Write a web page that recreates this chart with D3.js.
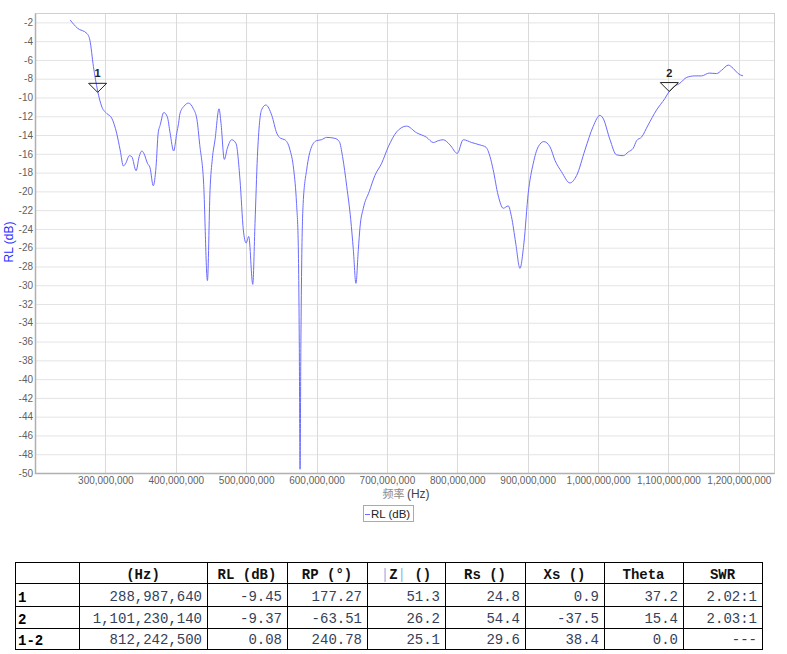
<!DOCTYPE html>
<html>
<head>
<meta charset="utf-8">
<script src="https://cdn.jsdelivr.net/npm/d3@7"></script>
<style>
body{margin:0;background:#fff;}
svg{display:block;}
</style>
</head>
<body>
<svg width="787" height="654"></svg>
<script>
// RL trace (MHz / dB)
var freqMHz = [250,260,274,278,283,289,295,302,309,316,321,325.6,329,334,337.5,343.6,348,351.7,355,359.7,363.5,368,372,375,378,383,388,392,397,401.4,404,406,412,418,425,430,434,439.5,445,448.7,452,455.8,461.5,464.3,469,473.3,479.5,485.6,491.3,496,500,503.7,509.4,512.6,516,522,528,536.4,543.5,549,555,562,567.6,571.6,574,575.5,576.6,577.8,579,581,586,593,600,607,614.5,626,632.4,637,643,648.6,652.3,656,659.4,661.8,666.5,675,683,692.6,702,714,728,742,756.5,766,773,780,789.6,800,808.5,820.5,832,840.8,846.5,851,858,865.3,872.4,877,883,889,894.7,900.8,908,915,923,931.7,938.8,948,960,969.6,981.4,993,1002.7,1007,1017,1026,1035.8,1043,1050,1054.8,1062,1071,1083,1095,1101,1107,1116,1126,1137.6,1147,1158,1168.5,1175.6,1185,1192,1199,1206];
var rlDb = [-1.75,-2.6,-3.2,-3.9,-6.7,-9.3,-11.0,-11.7,-12.2,-13.8,-15.6,-17.3,-17.0,-16.2,-16.3,-17.8,-16.3,-15.7,-16.0,-17.0,-17.5,-19.4,-17.35,-13.8,-12.9,-11.6,-12.05,-13.8,-15.7,-13.8,-12.75,-11.7,-10.9,-10.6,-11.2,-12.3,-15.0,-19.0,-29.5,-19.9,-16.5,-14.5,-11.2,-12.75,-16.6,-15.4,-14.5,-14.9,-18.8,-24.1,-25.5,-24.8,-29.9,-23.4,-16.3,-11.3,-10.8,-11.9,-13.8,-14.35,-14.5,-15.5,-17.7,-21.3,-25.5,-36,-49.6,-36,-27.3,-21.3,-17.7,-15.25,-14.6,-14.5,-14.25,-14.35,-14.7,-16.3,-19.5,-23,-26.2,-29.8,-26.2,-23.8,-21.8,-20.0,-18.3,-17.0,-15.25,-13.65,-13.05,-13.75,-14.25,-14.8,-14.6,-14.5,-15.05,-15.95,-14.5,-14.8,-15.05,-15.3,-16.3,-17.7,-20.4,-21.8,-21.55,-22.7,-25.5,-28.2,-25.5,-20.2,-17.0,-15.25,-14.7,-15.25,-16.7,-17.9,-19.1,-18.3,-15.6,-13.1,-11.9,-12.2,-14.5,-16.1,-16.2,-15.8,-15.4,-14.6,-14.2,-12.95,-11.35,-10.1,-9.37,-8.9,-8.5,-7.86,-7.7,-7.7,-7.4,-7.45,-7.1,-6.55,-6.9,-7.45,-7.7];

var markerNames = ["1","2"];
var markerFreq = [288987640, 1101230140];
var markerRL = [-9.45, -9.37];

var xTicks = [300e6,400e6,500e6,600e6,700e6,800e6,900e6,1000e6,1100e6,1200e6];
var yTicks = [-2,-4,-6,-8,-10,-12,-14,-16,-18,-20,-22,-24,-26,-28,-30,-32,-34,-36,-38,-40,-42,-44,-46,-48,-50];

// marker table
var tableHeader = ["", "(Hz)", "RL (dB)", "RP (°)", "|Z| ()", "Rs ()", "Xs ()", "Theta", "SWR"];
var rowNames = ["1", "2", "1-2"];
var colHz = ["288,987,640", "1,101,230,140", "812,242,500"];
var colRL = ["-9.45", "-9.37", "0.08"];
var colRP = ["177.27", "-63.51", "240.78"];
var colZ = ["51.3", "26.2", "25.1"];
var colRs = ["24.8", "54.4", "29.6"];
var colXs = ["0.9", "-37.5", "38.4"];
var colTheta = ["37.2", "15.4", "0.0"];
var colSWR = ["2.02:1", "2.03:1", "---"];

var svg = d3.select("svg");
var font = "Arial, 'Liberation Sans', sans-serif";
var mono = "'Courier New', 'Liberation Mono', monospace";

var x = d3.scaleLinear().domain([200e6, 1250e6]).range([35, 774]);
var y = d3.scaleLinear().domain([-50, -1]).range([473, 13]);

// grid
var grid = svg.append("g");
grid.selectAll(".hg").data(yTicks).enter().append("line")
	.attr("x1", x.range()[0]).attr("x2", x.range()[1])
	.attr("y1", function(d){return y(d)+0.5;}).attr("y2", function(d){return y(d)+0.5;})
	.attr("stroke", "#e4e4e4");
grid.selectAll(".vg").data(xTicks).enter().append("line")
	.attr("y1", y.range()[1]).attr("y2", y.range()[0])
	.attr("x1", function(d){return Math.round(x(d))+0.5;}).attr("x2", function(d){return Math.round(x(d))+0.5;})
	.attr("stroke", "#dadada");

svg.append("rect")
	.attr("x", 35.5).attr("y", 13.5)
	.attr("width", 774-35).attr("height", 473-13)
	.attr("fill", "none").attr("stroke", "#cfcfcf");
svg.append("path")
	.attr("d", "M35.5,13.5V473.5H774.5")
	.attr("fill", "none").attr("stroke", "#b0b0b0").attr("stroke-width", 1.5);

// axes
var yAxis = svg.append("g")
	.attr("transform", "translate(35,0)")
	.call(d3.axisLeft(y).tickValues(yTicks).tickSize(0).tickPadding(2).tickFormat(function(d){return String(d);}));
var xAxis = svg.append("g")
	.attr("transform", "translate(0,473)")
	.call(d3.axisBottom(x).tickValues(xTicks).tickSize(0).tickPadding(4).tickFormat(d3.format(",")));
[yAxis, xAxis].forEach(function(a){
	a.select(".domain").remove();
	a.selectAll("text").attr("font-family", font).attr("font-size", 10).attr("fill", "#5f5f5f");
});

// axis titles
svg.append("text")
	.attr("transform", "translate(13,242) rotate(-90)")
	.attr("text-anchor", "middle")
	.attr("font-family", font).attr("font-size", 12)
	.attr("fill", "#1f2fff")
	.text("RL (dB)");
var xl = svg.append("text")
	.attr("x", 406).attr("y", 498)
	.attr("text-anchor", "middle")
	.attr("font-family", font).attr("font-size", 12);
xl.append("tspan").attr("fill", "#8a8a8a").attr("font-family", "'Noto Sans CJK SC', sans-serif").attr("font-size", 11).text("频率 ");
xl.append("tspan").attr("fill", "#444").text("(Hz)");

// trace
var pts = freqMHz.map(function(f, i){return [f*1e6, rlDb[i]];});
var line = d3.line()
	.x(function(d){return x(d[0]);})
	.y(function(d){return y(d[1]);})
	.curve(d3.curveMonotoneX);
svg.append("path")
	.attr("d", line(pts))
	.attr("fill", "none")
	.attr("stroke", "#6b6bff")
	.attr("stroke-width", 1);

// markers
for(var i=0;i<markerNames.length;i++){
	var mx = x(markerFreq[i]);
	var my = y(markerRL[i]);
	svg.append("path")
		.attr("d", "M"+(mx-9)+","+(my-9)+"L"+(mx+9)+","+(my-9)+"L"+mx+","+my+"Z")
		.attr("fill", "none").attr("stroke", "#222").attr("stroke-width", 1);
	svg.append("text")
		.attr("x", mx).attr("y", my-15)
		.attr("text-anchor", "middle")
		.attr("font-family", font).attr("font-size", 11).attr("font-weight", "bold")
		.attr("fill", "#222")
		.text(markerNames[i]);
}

// legend
svg.append("rect")
	.attr("x", 363.5).attr("y", 505.5).attr("width", 50).attr("height", 16)
	.attr("fill", "#fff").attr("stroke", "#aaa");
svg.append("line")
	.attr("x1", 365).attr("x2", 370).attr("y1", 514.5).attr("y2", 514.5)
	.attr("stroke", "#6b6bff");
svg.append("text")
	.attr("x", 371).attr("y", 518)
	.attr("font-family", font).attr("font-size", 11.5).attr("fill", "#222")
	.text("RL (dB)");

// table
var colEdges = [15,79,207,287,367,445,525,604,683,762];
var rowEdges = [562,583,606,628,649];
var columns = [colHz, colRL, colRP, colZ, colRs, colXs, colTheta, colSWR];
var tbl = svg.append("g");
tbl.selectAll(".rl").data(rowEdges).enter().append("line")
	.attr("x1", colEdges[0]).attr("x2", colEdges[colEdges.length-1])
	.attr("y1", function(d){return d+0.5;}).attr("y2", function(d){return d+0.5;})
	.attr("stroke", "#000");
tbl.selectAll(".cl").data(colEdges).enter().append("line")
	.attr("y1", rowEdges[0]).attr("y2", rowEdges[rowEdges.length-1]+1)
	.attr("x1", function(d){return d+0.5;}).attr("x2", function(d){return d+0.5;})
	.attr("stroke", "#000");

tableHeader.forEach(function(h, c){
	if(h == "") return;
	var t = tbl.append("text")
		.attr("x", (colEdges[c]+colEdges[c+1])/2).attr("y", rowEdges[1]-4)
		.attr("text-anchor", "middle")
		.attr("font-family", mono).attr("font-size", 14).attr("font-weight", "bold")
		.attr("fill", "#111")
		.style("white-space", "pre");
	if(h.charAt(0) == "|"){
		var parts = h.split("|");
		t.append("tspan").attr("fill", "#8fb8e8").attr("font-weight", "normal").text("|");
		t.append("tspan").text(parts[1]);
		t.append("tspan").attr("fill", "#8fb8e8").attr("font-weight", "normal").text("|");
		t.append("tspan").text(parts[2]);
	}else{
		t.text(h);
	}
});

rowNames.forEach(function(r, k){
	tbl.append("text")
		.attr("x", colEdges[0]+3).attr("y", rowEdges[k+2]-4)
		.attr("font-family", mono).attr("font-size", 14).attr("font-weight", "bold")
		.attr("fill", "#000")
		.text(r);
	columns.forEach(function(col, c){
		tbl.append("text")
			.attr("x", colEdges[c+2]-5).attr("y", rowEdges[k+2]-5)
			.attr("text-anchor", "end")
			.attr("font-family", mono).attr("font-size", 14)
			.attr("fill", "#34415a")
			.text(col[k]);
	});
});
</script>
</body>
</html>
